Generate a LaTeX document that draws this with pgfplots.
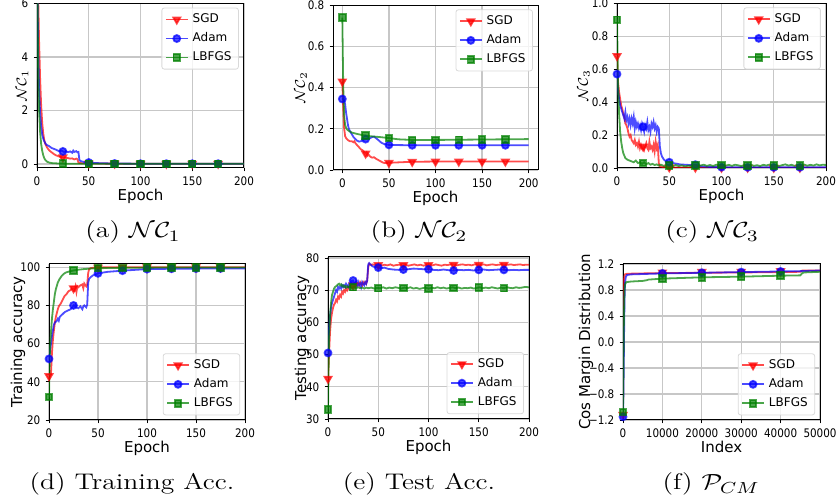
\documentclass[border=0pt]{standalone}
\usepackage{fontspec}
\usepackage{pgfplots}
\pgfplotsset{compat=1.18}
\newfontfamily\dejavu{DejaVu Sans}

\definecolor{cgreen}{rgb}{0,0.5,0}

\pgfplotsset{
  panel/.style={
    scale only axis, anchor=south west,
    font=\dejavu\fontsize{5.9}{7}\selectfont,
    /pgf/number format/assume math mode=true,
    tick pos=left, tick align=outside,
    major tick length=1.75pt,
    tick style={black, line width=0.4pt},
    axis line style={line width=0.5pt},
    grid=major, major grid style={line width=0.65pt, color=black!22},
    label style={font=\dejavu\fontsize{7.5}{8.5}\selectfont},
    xticklabel style={yshift=1pt, xscale=0.88},
    yticklabel style={xshift=0.5pt, xscale=0.88},
    xlabel style={yshift=5pt},
    legend style={font=\dejavu\fontsize{6}{7}\selectfont, draw=black!15,
      rounded corners=1.2pt, fill=white, fill opacity=0.8, text opacity=1,
      inner xsep=1.5pt, inner ysep=0.8pt, row sep=-0.5pt},
    legend cell align=left,
    legend image code/.code={\draw[mark repeat=2,mark phase=2]
      plot coordinates {(0pt,0pt) (5.5pt,0pt) (11pt,0pt)};},
  },
  ylab/.style={ylabel style={at={(axis description cs:#1,0.5)}, anchor=center}},
  legtop/.style={legend style={at={(0.975,0.975)}, anchor=north east}},
  legbot/.style={legend style={at={(0.975,0.03)}, anchor=south east}},
  sgd/.style={color=red, opacity=0.7, line width=0.9pt, mark=triangle*, mark size=2pt, mark options={rotate=180, solid}},
  adam/.style={color=blue, opacity=0.7, line width=0.9pt, mark=*, mark size=1.75pt, mark options={solid}},
  lbfgs/.style={color=cgreen, opacity=0.7, line width=0.9pt, mark=square*, mark size=1.65pt, mark options={solid}},
}

\begin{document}
\begin{tikzpicture}
\path[use as bounding box] (0,0) rectangle (419.5pt,250.5pt);

% (a) NC1
\begin{axis}[panel, legtop, ylab=-0.07, at={(18.5pt,166.5pt)}, width=103.5pt, height=82.25pt,
  xmin=0, xmax=200, ymin=-0.15, ymax=6, xtick={0,50,100,150,200}, ytick={0,2,4,6},
  xlabel={Epoch}, ylabel={$\mathcal{N}\mathcal{C}_1$}]
\addlegendimage{sgd}\addlegendentry{SGD}
\addlegendimage{adam}\addlegendentry{Adam}
\addlegendimage{lbfgs}\addlegendentry{LBFGS}
\addplot[sgd, mark=none, forget plot] coordinates {
(0,9) (1,6.5) (2,4.6) (3,3.2) (4,2.2) (5,1.55) (6,1.15) (7,0.9) (8,0.75) (10,0.6)
(12,0.5) (14,0.44) (16,0.38) (18,0.33) (20,0.3) (22,0.27) (25,0.25) (28,0.23) (30,0.22)
(32,0.2) (34,0.21) (36,0.17) (38,0.2) (39,0.18) (40,0.06) (41,0.04) (43,0.03) (46,0.025)
(50,0.02) (60,0.015) (80,0.012) (100,0.01) (150,0.01) (200,0.01)};
\addplot[sgd, only marks, forget plot] coordinates {
(25,0.25) (50,0.02) (75,0.013) (100,0.01) (125,0.01) (150,0.01) (175,0.01)};
\addplot[adam, mark=none, forget plot] coordinates {
(0,9) (1,4.5) (2,2.8) (3,1.9) (4,1.4) (5,1.1) (6,0.95) (7,0.85) (8,0.78) (9,0.72) (10,0.7)
(11,0.68) (12,0.66) (14,0.6) (16,0.57) (18,0.54) (20,0.5) (22,0.48) (24,0.5) (26,0.45)
(28,0.48) (30,0.44) (32,0.47) (34,0.42) (35,0.5) (36,0.45) (38,0.48) (39,0.44) (40,0.45)
(41,0.15) (42,0.11) (44,0.09) (46,0.07) (48,0.06) (50,0.055) (55,0.04) (60,0.03) (70,0.02)
(80,0.015) (100,0.01) (150,0.01) (200,0.01)};
\addplot[adam, only marks, forget plot] coordinates {
(25,0.47) (50,0.055) (75,0.018) (100,0.01) (125,0.01) (150,0.01) (175,0.01)};
\addplot[lbfgs, mark=none, forget plot] coordinates {
(0,9) (1,3.8) (2,2.0) (3,1.2) (4,0.75) (5,0.5) (6,0.33) (7,0.22) (8,0.15) (10,0.08)
(12,0.05) (15,0.03) (20,0.02) (25,0.015) (30,0.01) (50,0.01) (200,0.01)};
\addplot[lbfgs, only marks, forget plot] coordinates {
(25,0.015) (50,0.01) (75,0.01) (100,0.01) (125,0.01) (150,0.01) (175,0.01)};
\end{axis}

% (b) NC2
\begin{axis}[panel, legtop, ylab=-0.156, at={(166.5pt,165.5pt)}, width=102.5pt, height=82.35pt,
  xmin=-10, xmax=210, ymin=0, ymax=0.8, xtick={0,50,100,150,200},
  ytick={0,0.2,0.4,0.6,0.8}, yticklabels={0.0,0.2,0.4,0.6,0.8},
  xlabel={Epoch}, ylabel={$\mathcal{N}\mathcal{C}_2$}]
\addlegendimage{sgd}\addlegendentry{SGD}
\addlegendimage{adam}\addlegendentry{Adam}
\addlegendimage{lbfgs}\addlegendentry{LBFGS}
\addplot[sgd, mark=none, forget plot] coordinates {
(0,0.43) (1,0.3) (2,0.2) (3,0.165) (4,0.155) (5,0.15) (6,0.145) (8,0.14) (10,0.14)
(12,0.135) (13,0.14) (14,0.13) (16,0.12) (18,0.11) (20,0.1) (22,0.095) (24,0.085)
(25,0.08) (26,0.085) (27,0.07) (28,0.075) (30,0.065) (32,0.06) (34,0.062) (36,0.055)
(38,0.05) (40,0.045) (42,0.04) (44,0.035) (46,0.034) (50,0.035) (55,0.036) (60,0.037)
(70,0.039) (75,0.04) (100,0.041) (150,0.041) (200,0.041)};
\addplot[sgd, only marks, forget plot] coordinates {
(0,0.43) (25,0.08) (50,0.035) (75,0.04) (100,0.041) (125,0.041) (150,0.041) (175,0.041)};
\addplot[adam, mark=none, forget plot] coordinates {
(0,0.345) (1,0.345) (2,0.34) (3,0.32) (4,0.28) (5,0.25) (6,0.22) (7,0.2) (8,0.19)
(10,0.175) (12,0.16) (14,0.15) (16,0.142) (18,0.138) (20,0.14) (22,0.145) (25,0.15)
(28,0.152) (30,0.155) (32,0.16) (34,0.162) (36,0.155) (38,0.148) (40,0.14) (42,0.132)
(45,0.126) (50,0.122) (60,0.121) (75,0.12) (100,0.12) (200,0.12)};
\addplot[adam, only marks, forget plot] coordinates {
(0,0.345) (25,0.15) (50,0.122) (75,0.12) (100,0.12) (125,0.12) (150,0.12) (175,0.12)};
\addplot[lbfgs, mark=none, forget plot] coordinates {
(0,0.74) (1,0.4) (2,0.26) (3,0.22) (4,0.205) (5,0.197) (7,0.19) (10,0.182) (15,0.176)
(20,0.171) (25,0.167) (30,0.164) (40,0.16) (50,0.155) (55,0.152) (60,0.149) (70,0.147)
(75,0.146) (100,0.146) (125,0.147) (150,0.148) (175,0.149) (200,0.15)};
\addplot[lbfgs, only marks, forget plot] coordinates {
(0,0.74) (25,0.167) (50,0.155) (75,0.146) (100,0.146) (125,0.147) (150,0.148) (175,0.149)};
\end{axis}

% (c) NC3
\begin{axis}[panel, legtop, ylab=-0.158, at={(308.5pt,166.5pt)}, width=104.5pt, height=82.35pt,
  xmin=0, xmax=200, ymin=0, ymax=1, xtick={0,50,100,150,200},
  ytick={0,0.2,0.4,0.6,0.8,1}, yticklabels={0.0,0.2,0.4,0.6,0.8,1.0},
  xlabel={Epoch}, ylabel={$\mathcal{N}\mathcal{C}_3$}]
\addlegendimage{sgd}\addlegendentry{SGD}
\addlegendimage{adam}\addlegendentry{Adam}
\addlegendimage{lbfgs}\addlegendentry{LBFGS}
\addplot[sgd, mark=none, forget plot] coordinates {
(0,0.68) (1,0.52) (2,0.46) (3,0.42) (4,0.38) (5,0.36) (6,0.33) (7,0.31) (8,0.27) (9,0.26)
(10,0.24) (11,0.21) (12,0.19) (13,0.2) (14,0.17) (15,0.16) (16,0.15) (17,0.17) (18,0.14)
(19,0.15) (20,0.13) (21,0.16) (22,0.12) (23,0.14) (24,0.12) (25,0.13) (26,0.11) (27,0.13)
(28,0.15) (29,0.12) (30,0.11) (31,0.16) (32,0.12) (33,0.13) (34,0.11) (35,0.14) (36,0.1)
(37,0.16) (38,0.12) (39,0.14) (40,0.03) (41,0.01) (42,0.008) (44,0.006) (46,0.005)
(50,0.004) (60,0.003) (100,0.002) (200,0.002)};
\addplot[sgd, only marks, forget plot] coordinates {
(0,0.68) (25,0.13) (50,0.004) (75,0.003) (100,0.002) (125,0.002) (150,0.002) (175,0.002)};
\addplot[adam, mark=none, forget plot] coordinates {
(0,0.57) (1,0.47) (2,0.42) (3,0.38) (4,0.36) (5,0.34) (6,0.32) (7,0.3) (8,0.34) (9,0.29)
(10,0.31) (11,0.27) (12,0.3) (13,0.26) (14,0.3) (15,0.27) (16,0.31) (17,0.24) (18,0.28)
(19,0.25) (20,0.27) (21,0.24) (22,0.26) (23,0.23) (24,0.27) (25,0.25) (26,0.22) (27,0.26)
(28,0.24) (29,0.28) (30,0.23) (31,0.25) (32,0.22) (33,0.27) (34,0.25) (35,0.28) (36,0.24)
(37,0.26) (38,0.22) (39,0.25) (40,0.24) (41,0.13) (42,0.09) (43,0.07) (44,0.06) (45,0.05)
(46,0.045) (48,0.04) (50,0.035) (52,0.03) (55,0.028) (58,0.025) (60,0.022) (65,0.02)
(70,0.018) (75,0.02) (78,0.015) (80,0.01) (85,0.008) (90,0.006) (100,0.005) (150,0.004)
(200,0.004)};
\addplot[adam, only marks, forget plot] coordinates {
(0,0.57) (25,0.25) (50,0.035) (75,0.02) (100,0.005) (125,0.004) (150,0.004) (175,0.004)};
\addplot[lbfgs, mark=none, forget plot] coordinates {
(0,0.9) (1,0.5) (2,0.33) (3,0.22) (4,0.16) (5,0.12) (6,0.09) (7,0.075) (8,0.06) (9,0.055)
(10,0.05) (12,0.045) (14,0.04) (16,0.035) (18,0.045) (20,0.03) (22,0.035) (24,0.025)
(25,0.03) (26,0.035) (28,0.022) (30,0.03) (32,0.02) (34,0.025) (36,0.018) (38,0.022)
(40,0.015) (42,0.02) (45,0.012) (48,0.018) (50,0.015) (53,0.01) (56,0.018) (59,0.012)
(62,0.016) (65,0.01) (68,0.014) (71,0.012) (74,0.017) (77,0.011) (80,0.015) (83,0.02)
(86,0.013) (89,0.018) (92,0.012) (95,0.02) (98,0.015) (101,0.022) (104,0.014) (107,0.019)
(110,0.013) (113,0.02) (116,0.016) (119,0.012) (122,0.018) (125,0.014) (128,0.02)
(131,0.013) (134,0.017) (137,0.012) (140,0.019) (143,0.015) (146,0.021) (149,0.014)
(152,0.018) (155,0.012) (158,0.017) (161,0.022) (164,0.015) (167,0.019) (170,0.013)
(173,0.02) (176,0.016) (179,0.021) (182,0.014) (185,0.019) (188,0.015) (191,0.022)
(194,0.016) (197,0.02) (200,0.018)};
\addplot[lbfgs, only marks, forget plot] coordinates {
(0,0.9) (25,0.03) (50,0.015) (75,0.014) (100,0.018) (125,0.014) (150,0.015) (175,0.016)};
\end{axis}

% (d) Training accuracy
\begin{axis}[panel, legbot, ylab=-0.158, at={(24.5pt,40.5pt)}, width=98pt, height=78pt,
  xmin=0, xmax=200, ymin=20, ymax=101.7, xtick={0,50,100,150,200},
  ytick={20,40,60,80,100},
  xlabel={Epoch}, ylabel={Training accuracy}]
\addlegendimage{sgd}\addlegendentry{SGD}
\addlegendimage{adam}\addlegendentry{Adam}
\addlegendimage{lbfgs}\addlegendentry{LBFGS}
\addplot[sgd, mark=none, forget plot] coordinates {
(0,43) (2,44) (3,55) (4,62) (5,67) (6,71) (7,74) (8,76) (9,78) (10,79.5) (12,81) (14,83)
(16,85) (18,86) (20,87.5) (22,88) (24,89) (25,89) (26,88) (27,90) (28,87) (29,90)
(30,89.5) (32,90.5) (34,91) (35,89) (36,91.5) (38,90) (39,91) (40,97) (41,99.2) (43,99.6)
(46,99.8) (50,99.9) (75,100) (200,100)};
\addplot[sgd, only marks, forget plot] coordinates {
(0,43) (25,89) (50,99.9) (75,100) (100,100) (125,100) (150,100) (175,100)};
\addplot[adam, mark=none, forget plot] coordinates {
(0,52) (2,60) (3,64) (4,67) (5,70) (6,71) (7,71.5) (8,72) (9,73) (10,72) (11,74)
(12,74.5) (14,75.5) (16,76.5) (18,77) (20,77.5) (22,78) (24,79) (25,80) (26,79.5)
(27,80.5) (28,79) (30,78.5) (32,79.5) (34,78) (35,79.5) (36,80) (38,79) (39,80.5) (40,92)
(41,94) (43,95) (45,95.8) (48,96.3) (50,96.8) (55,97.2) (60,97.6) (70,98) (75,98.2)
(90,98.7) (100,99) (125,99.2) (150,99.3) (200,99.4)};
\addplot[adam, only marks, forget plot] coordinates {
(0,52) (25,80) (50,96.8) (75,98.2) (100,99) (125,99.2) (150,99.3) (175,99.35)};
\addplot[lbfgs, mark=none, forget plot] coordinates {
(0,32) (1,58) (2,66) (3,73) (4,78) (5,82) (6,86) (7,88.5) (9,92) (11,94) (13,95.5)
(15,96.5) (17,97.2) (20,97.7) (25,98.3) (30,98.7) (35,99) (40,99.2) (50,99.5) (75,99.7)
(100,99.8) (200,99.9)};
\addplot[lbfgs, only marks, forget plot] coordinates {
(0,32) (25,98.3) (50,99.5) (75,99.7) (100,99.8) (125,99.8) (150,99.85) (175,99.9)};
\end{axis}

% (e) Testing accuracy
\begin{axis}[panel, legbot, ylab=-0.129, at={(164pt,41pt)}, width=100.5pt, height=81pt,
  xmin=0, xmax=200, ymin=30, ymax=80.3, xtick={0,50,100,150,200},
  ytick={30,40,50,60,70,80},
  xlabel={Epoch}, ylabel={Testing accuracy}]
\addlegendimage{sgd}\addlegendentry{SGD}
\addlegendimage{adam}\addlegendentry{Adam}
\addlegendimage{lbfgs}\addlegendentry{LBFGS}
\addplot[sgd, mark=none, forget plot] coordinates {
(0,42.5) (1,50) (2,57) (3,61) (4,63) (5,64.5) (6,65.5) (7,66) (8,67) (9,66.5) (10,68)
(11,67.5) (12,68.5) (13,68) (14,69.5) (15,69) (16,70) (17,69.5) (18,70.5) (19,70) (20,71)
(21,70.5) (22,71.5) (23,71) (24,72) (25,71.5) (26,72) (27,71) (28,72.5) (29,71.5) (30,72)
(31,71.5) (32,72.5) (33,72) (34,71.5) (35,72.5) (36,72) (37,72.5) (38,72) (39,73) (40,77)
(41,78.2) (42,78) (43,77.8) (44,78) (46,77.9) (48,77.6) (50,77.8) (53,77.6) (56,77.9)
(59,77.7) (62,78) (65,77.6) (68,77.8) (71,77.9) (74,77.7) (77,77.9) (80,77.6) (83,77.8)
(86,78) (89,77.7) (92,77.9) (95,77.6) (98,77.8) (101,77.9) (104,77.7) (107,78) (110,77.8)
(113,77.6) (116,77.9) (119,77.8) (122,78) (125,77.9) (128,77.7) (131,77.9) (134,78)
(137,77.8) (140,77.9) (143,77.7) (146,78) (149,77.9) (152,77.8) (155,78) (158,77.7)
(161,77.9) (164,78) (167,77.8) (170,77.9) (173,78) (176,77.8) (179,77.9) (182,78)
(185,77.8) (188,77.9) (191,78) (194,77.8) (197,77.9) (200,77.9)};
\addplot[sgd, only marks, forget plot] coordinates {
(0,42.5) (25,71.5) (50,77.8) (75,77.8) (100,77.8) (125,77.9) (150,77.9) (175,77.9)};
\addplot[adam, mark=none, forget plot] coordinates {
(0,50.5) (1,58) (2,62) (3,64.5) (4,66) (5,67) (6,68) (7,69) (8,70) (9,69.5) (10,71)
(11,70.5) (12,71) (13,70.5) (14,71.5) (15,71) (16,71.5) (17,71) (18,72) (19,71.5) (20,71)
(21,72) (22,71.5) (23,72.5) (24,73) (25,73) (26,72) (27,71.5) (28,72.5) (29,71.5)
(30,72.5) (31,71.5) (32,72) (33,71) (34,72.5) (35,72) (36,71.5) (37,72.5) (38,72) (39,73)
(40,78) (41,78.4) (42,78) (43,77.8) (44,77.5) (45,77.3) (47,77.2) (50,77) (53,76.8)
(56,77) (60,76.6) (65,76.4) (70,76.3) (75,76.4) (80,76.5) (85,76.7) (90,76.6) (95,76.5)
(100,76.5) (105,76.3) (110,76.2) (115,76.4) (120,76.2) (125,76.1) (130,76.3) (135,76.2)
(140,76.3) (145,76.1) (150,76.3) (155,76.4) (160,76.2) (165,76.3) (170,76.4) (175,76.3)
(180,76.2) (185,76.3) (190,76.2) (195,76.3) (200,76.3)};
\addplot[adam, only marks, forget plot] coordinates {
(0,50.5) (25,73) (50,77) (75,76.4) (100,76.5) (125,76.1) (150,76.3) (175,76.3)};
\addplot[lbfgs, mark=none, forget plot] coordinates {
(0,33) (1,55) (2,62) (3,66) (4,68.5) (5,69.5) (6,70.5) (7,71) (8,71.2) (9,71.5) (10,71.8)
(11,72) (12,71.5) (13,71.8) (14,71.2) (15,71.5) (16,71) (17,71.3) (18,70.8) (19,71.2)
(20,70.9) (22,71.1) (24,70.7) (25,70.9) (26,71.1) (28,70.6) (30,70.9) (32,70.6) (34,70.8)
(36,70.5) (38,70.8) (40,70.6) (43,70.8) (46,70.5) (49,70.7) (52,70.6) (55,70.9) (58,70.5)
(61,70.8) (64,70.6) (67,70.9) (70,70.7) (73,70.5) (76,70.8) (79,70.6) (82,70.9) (85,70.5)
(88,70.7) (91,70.4) (94,70.6) (97,70.8) (100,70.5) (103,70.7) (106,70.6) (109,70.9)
(112,70.6) (115,70.8) (118,70.5) (121,70.7) (124,70.9) (127,70.6) (130,70.8) (133,70.5)
(136,70.7) (139,70.6) (142,70.8) (145,70.5) (148,70.7) (151,70.9) (154,70.6) (157,70.8)
(160,70.6) (163,70.9) (166,70.7) (169,70.5) (172,70.8) (175,70.6) (178,70.9) (181,70.7)
(184,70.6) (187,70.9) (190,70.7) (193,70.8) (196,71) (200,70.9)};
\addplot[lbfgs, only marks, forget plot] coordinates {
(0,33) (25,70.9) (50,70.6) (75,70.7) (100,70.5) (125,70.7) (150,70.8) (175,70.6)};
\end{axis}

% (f) Cos margin distribution
\begin{axis}[panel, legbot, ylab=-0.188, at={(311.5pt,40.5pt)}, width=98.5pt, height=78pt,
  xmin=0, xmax=50000, ymin=-1.2, ymax=1.2,
  xtick={0,10000,20000,30000,40000,50000},
  xticklabels={0,10000,20000,30000,40000,50000},
  scaled x ticks=false,
  ytick={-1.2,-0.8,-0.4,0,0.4,0.8,1.2},
  yticklabels={−1.2,−0.8,−0.4,0.0,0.4,0.8,1.2},
  xlabel={Index}, ylabel={Cos Margin Distribution}]
\addlegendimage{sgd}\addlegendentry{SGD}
\addlegendimage{adam}\addlegendentry{Adam}
\addlegendimage{lbfgs}\addlegendentry{LBFGS}
\addplot[sgd, mark=none, forget plot] coordinates {
(0,-1.12) (50,-0.6) (100,0.0) (150,0.5) (200,0.85) (300,1.0) (500,1.04) (1000,1.05)
(5000,1.055) (10000,1.06) (20000,1.065) (30000,1.07) (40000,1.075) (45000,1.08)
(45500,1.1) (50000,1.1)};
\addplot[sgd, only marks, forget plot] coordinates {
(0,-1.12) (10000,1.07) (20000,1.08) (30000,1.08) (40000,1.09)};
\addplot[adam, mark=none, forget plot] coordinates {
(0,-1.15) (100,-0.8) (200,-0.3) (300,0.3) (400,0.7) (500,0.9) (700,1.0) (1000,1.03)
(2000,1.04) (10000,1.055) (20000,1.065) (30000,1.075) (40000,1.085) (45000,1.09)
(50000,1.1)};
\addplot[adam, only marks, forget plot] coordinates {
(0,-1.15) (10000,1.055) (20000,1.065) (30000,1.075) (40000,1.085)};
\addplot[lbfgs, mark=none, forget plot] coordinates {
(0,-1.08) (100,-0.5) (200,0.2) (300,0.6) (400,0.8) (500,0.88) (800,0.92) (2000,0.93)
(5000,0.94) (6000,0.95) (6500,0.96) (10000,0.975) (20000,0.995) (30000,1.005)
(40000,1.02) (45000,1.025) (45500,1.06) (46000,1.07) (50000,1.08)};
\addplot[lbfgs, only marks, forget plot] coordinates {
(0,-1.08) (10000,0.975) (20000,0.995) (30000,1.005) (40000,1.02)};
\end{axis}

% captions
\begin{scope}[every node/.style={anchor=base, xscale=1.22, font=\fontsize{11.3}{13}\selectfont}]
\node at (66.5pt,131.5pt) {(a) $\mathcal{N}\mathcal{C}_1$};
\node at (209.5pt,131.5pt) {(b) $\mathcal{N}\mathcal{C}_2$};
\node at (356pt,131.5pt) {(c) $\mathcal{N}\mathcal{C}_3$};
\node at (66pt,5.5pt) {(d) Training Acc.};
\node at (209.5pt,5.5pt) {(e) Test Acc.};
\node at (355.5pt,5.5pt) {(f) $\mathcal{P}_{CM}$};
\end{scope}
\end{tikzpicture}
\end{document}
